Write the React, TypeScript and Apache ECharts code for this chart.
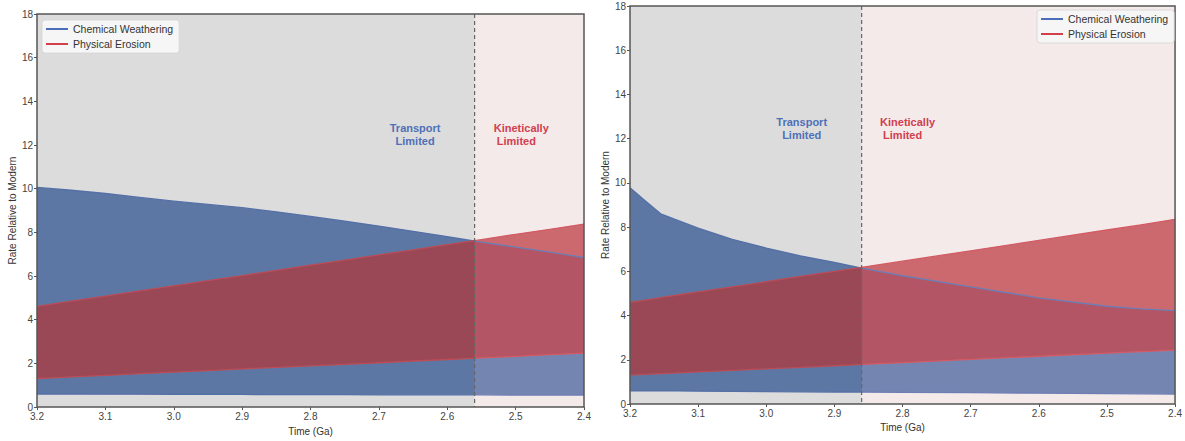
import { useEffect, useRef } from "react";
import * as echarts from "echarts";

// ---------- data ----------
const leftTime = [3.2, 3.15, 3.1, 3.05, 3.0, 2.95, 2.9, 2.85, 2.8, 2.75, 2.7, 2.65, 2.6, 2.55, 2.5, 2.45, 2.4];
const leftChemHigh = [10.06, 9.93, 9.78, 9.6, 9.43, 9.28, 9.13, 8.94, 8.73, 8.51, 8.29, 8.05, 7.8, 7.55, 7.33, 7.1, 6.85];
const leftChemLow = [0.6, 0.6, 0.59, 0.59, 0.58, 0.58, 0.58, 0.57, 0.57, 0.57, 0.56, 0.56, 0.56, 0.56, 0.55, 0.55, 0.55];
const leftEroLow = [1.31, 1.38, 1.45, 1.53, 1.6, 1.67, 1.75, 1.82, 1.89, 1.96, 2.03, 2.11, 2.18, 2.25, 2.32, 2.4, 2.47];
const leftEroHigh = [4.61, 4.85, 5.08, 5.32, 5.55, 5.79, 6.02, 6.26, 6.5, 6.73, 6.97, 7.2, 7.44, 7.67, 7.91, 8.14, 8.38];
const leftSplit = 2.56;

const rightTime = [3.2, 3.18, 3.155, 3.13, 3.1, 3.05, 3.0, 2.95, 2.9, 2.86, 2.8, 2.7, 2.6, 2.5, 2.45, 2.4];
const rightChemHigh = [9.78, 9.25, 8.6, 8.3, 7.95, 7.45, 7.05, 6.7, 6.4, 6.15, 5.8, 5.3, 4.8, 4.42, 4.3, 4.22];
const rightChemLow = [0.6, 0.6, 0.59, 0.59, 0.58, 0.57, 0.56, 0.55, 0.54, 0.54, 0.53, 0.51, 0.49, 0.47, 0.46, 0.45];
const rightEroLow = [1.31, 1.34, 1.37, 1.41, 1.45, 1.52, 1.59, 1.66, 1.73, 1.79, 1.87, 2.02, 2.16, 2.3, 2.37, 2.44];
const rightEroHigh = [4.6, 4.69, 4.81, 4.93, 5.07, 5.3, 5.53, 5.77, 6.0, 6.18, 6.46, 6.93, 7.4, 7.87, 8.1, 8.35];
const rightSplit = 2.86;

const xMin = 2.4;
const xMax = 3.2;
const yMin = 0;
const yMax = 18;

const seriesNames = ["Chemical Weathering", "Physical Erosion"];
const regimeLabels = ["Transport\nLimited", "Kinetically\n Limited"];
const leftLabelAt = [[2.647, 12.47], [2.532, 12.47]];
const rightLabelAt = [[2.948, 12.47], [2.833, 12.47]];

// ---------- styles ----------
const FONT = "'Liberation Sans', Arial, sans-serif";
const BLUE_FILL = "rgba(70,108,175,0.92)";
const RED_FILL = "rgba(188,40,50,0.8)";
const BLUE_LINE = "#4a6fb8";
const RED_LINE = "#d2404c";
const GREY_ZONE = "rgba(116,116,116,0.25)";
const PINK_ZONE = "rgba(216,172,172,0.25)";

function bandRenderer(xs: number[], low: number[], high: number[], fill: string, stroke: string, polyZ: number, lineZ: number) {
  return (params: any, api: any) => {
    if (params.dataIndex !== 0) return null;
    const top = xs.map((x, i) => api.coord([x, high[i]]));
    const bot = xs.map((x, i) => api.coord([x, low[i]]));
    const ring = top.concat(bot.slice().reverse());
    return {
      type: "group",
      children: [
        { type: "polygon", z2: polyZ, shape: { points: ring }, style: { fill, stroke: null } },
        { type: "polyline", z2: lineZ, shape: { points: top }, style: { stroke, lineWidth: 1.3, fill: null } },
        { type: "polyline", z2: lineZ, shape: { points: bot }, style: { stroke, lineWidth: 1.3, fill: null } },
      ],
    };
  };
}

function overlayRenderer(split: number, labelAt: number[][]) {
  return (params: any, api: any) => {
    if (params.dataIndex !== 0) return null;
    const tl = api.coord([xMax, yMax]);
    const br = api.coord([xMin, yMin]);
    const sx = api.coord([split, yMax])[0];
    const t0 = api.coord(labelAt[0]);
    const t1 = api.coord(labelAt[1]);
    return {
      type: "group",
      children: [
        { type: "rect", z2: 10, shape: { x: tl[0], y: tl[1], width: sx - tl[0], height: br[1] - tl[1] }, style: { fill: GREY_ZONE } },
        { type: "rect", z2: 10, shape: { x: sx, y: tl[1], width: br[0] - sx, height: br[1] - tl[1] }, style: { fill: PINK_ZONE } },
        { type: "line", z2: 11, shape: { x1: sx, y1: tl[1], x2: sx, y2: br[1] }, style: { stroke: "#666", lineWidth: 1.2, lineDash: [4, 3] } },
        { type: "rect", z2: 12, shape: { x: tl[0], y: tl[1], width: br[0] - tl[0], height: br[1] - tl[1] }, style: { fill: null, stroke: "#555", lineWidth: 1.5 } },
        {
          type: "text", z2: 13, x: t0[0], y: t0[1],
          style: { text: regimeLabels[0], fill: "#4f70b8", font: `bold 11px ${FONT}`, align: "center", verticalAlign: "middle", lineHeight: 13 },
        },
        {
          type: "text", z2: 13, x: t1[0], y: t1[1],
          style: { text: regimeLabels[1], fill: "#d0404f", font: `bold 11px ${FONT}`, align: "left", verticalAlign: "middle", lineHeight: 13 },
        },
      ],
    };
  };
}

function makeXAxis(gridIndex: number, nameGap: number) {
  return {
    type: "value",
    gridIndex,
    inverse: true,
    min: xMin,
    max: xMax,
    interval: 0.1,
    name: "Time (Ga)",
    nameLocation: "middle",
    nameGap,
    nameTextStyle: { color: "#333", fontSize: 10, fontFamily: FONT },
    axisLine: { show: false },
    axisTick: { show: true, length: 3, lineStyle: { color: "#555" } },
    splitLine: { show: false },
    axisLabel: { color: "#444", fontSize: 10, fontFamily: FONT, margin: 4, formatter: (v: number) => v.toFixed(1) },
  };
}

function makeYAxis(gridIndex: number, nameGap: number) {
  return {
    type: "value",
    gridIndex,
    min: yMin,
    max: yMax,
    interval: 2,
    name: "Rate Relative to Modern",
    nameLocation: "middle",
    nameGap,
    nameTextStyle: { color: "#333", fontSize: 10, fontFamily: FONT },
    axisLine: { show: false },
    axisTick: { show: true, length: 3, lineStyle: { color: "#555" } },
    splitLine: { show: false },
    axisLabel: { color: "#444", fontSize: 10, fontFamily: FONT, margin: 4 },
  };
}

function makeLegend(left: number, top: number) {
  return {
    orient: "vertical",
    left,
    top,
    icon: "rect",
    itemWidth: 22,
    itemHeight: 2,
    itemGap: 3,
    padding: [3, 6, 3, 4],
    backgroundColor: "rgba(247,247,247,0.95)",
    borderColor: "#d4d4d4",
    borderWidth: 0.8,
    borderRadius: 3,
    textStyle: { color: "#333", fontSize: 10.5, fontFamily: FONT, lineHeight: 12 },
    data: [
      { name: seriesNames[0], itemStyle: { color: BLUE_LINE } },
      { name: seriesNames[1], itemStyle: { color: RED_LINE } },
    ],
  };
}

function panelSeries(idx: number, xs: number[], cLow: number[], cHigh: number[], eLow: number[], eHigh: number[], split: number, labelAt: number[][]) {
  const seed = [[xs[0], cHigh[0]]];
  return [
    {
      type: "custom",
      name: seriesNames[0],
      xAxisIndex: idx,
      yAxisIndex: idx,
      z: 2,
      itemStyle: { color: BLUE_LINE },
      data: seed,
      renderItem: bandRenderer(xs, cLow, cHigh, BLUE_FILL, BLUE_LINE, 0, 2),
    },
    {
      type: "custom",
      name: seriesNames[1],
      xAxisIndex: idx,
      yAxisIndex: idx,
      z: 2,
      itemStyle: { color: RED_LINE },
      data: seed,
      renderItem: bandRenderer(xs, eLow, eHigh, RED_FILL, RED_LINE, 1, 3),
    },
    {
      type: "custom",
      name: "zones" + idx,
      xAxisIndex: idx,
      yAxisIndex: idx,
      z: 3,
      silent: true,
      data: seed,
      renderItem: overlayRenderer(split, labelAt),
    },
  ];
}

export default function App() {
  const ref = useRef<HTMLDivElement>(null);
  useEffect(() => {
    document.body.style.margin = "0";
    if (!ref.current) return;
    const chart = echarts.init(ref.current, null, { renderer: "svg" });
    chart.setOption({
      animation: false,
      tooltip: { show: false },
      grid: [
        { left: 37, top: 14, width: 547, height: 399 },
        { left: 630, top: 6, width: 546, height: 398 },
      ],
      xAxis: [makeXAxis(0, 14), makeXAxis(1, 13)],
      yAxis: [makeYAxis(0, 18), makeYAxis(1, 17)],
      legend: [makeLegend(42, 20), makeLegend(1037, 10)],
      series: [
        ...panelSeries(0, leftTime, leftChemLow, leftChemHigh, leftEroLow, leftEroHigh, leftSplit, leftLabelAt),
        ...panelSeries(1, rightTime, rightChemLow, rightChemHigh, rightEroLow, rightEroHigh, rightSplit, rightLabelAt),
      ],
    });
    return () => chart.dispose();
  }, []);
  return <div ref={ref} style={{ width: 1185, height: 441 }} />;
}
